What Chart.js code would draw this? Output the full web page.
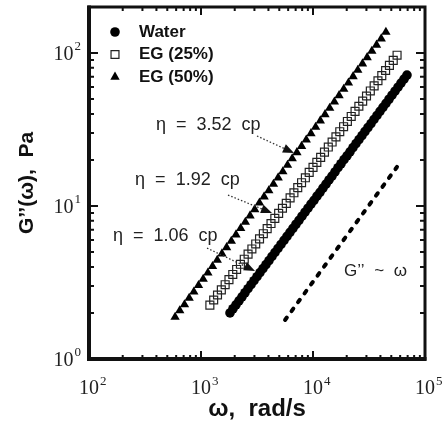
<!DOCTYPE html>
<html>
<head>
<meta charset="utf-8">
<script src="https://cdn.jsdelivr.net/npm/chart.js@4.4.1/dist/chart.umd.min.js"></script>
<style>
  html, body { margin: 0; padding: 0; background: #fff; }
  #wrap { width: 448px; height: 426px; }
</style>
</head>
<body>
<div id="wrap"><canvas id="chart" width="448" height="426"></canvas></div>
<script>
// loss modulus G'' (Pa) against angular frequency omega (rad/s)
const waterOmega = [
  1815, 1930, 2053, 2184, 2323, 2470, 2628, 2795, 2972, 3162,
  3363, 3577, 3804, 4046, 4304, 4578, 4869, 5178, 5508, 5858,
  6231, 6627, 7049, 7497, 7974, 8482, 9021, 9595, 10206, 10855,
  11546, 12280, 13061, 13892, 14776, 15716, 16716, 17780, 18911, 20114,
  21394, 22755, 24202, 25742, 27380, 29122, 30974, 32945, 35041, 37270,
  39641, 42163, 44846, 47699, 50733, 53961, 57394, 61045, 64929, 69060
];
const waterG = [
  2.00, 2.13, 2.26, 2.40, 2.55, 2.71, 2.88, 3.06, 3.25, 3.45,
  3.67, 3.90, 4.14, 4.40, 4.68, 4.97, 5.28, 5.61, 5.96, 6.33,
  6.73, 7.15, 7.60, 8.07, 8.58, 9.11, 9.68, 10.3, 10.9, 11.6,
  12.3, 13.1, 13.9, 14.8, 15.7, 16.7, 17.8, 18.9, 20.1, 21.3,
  22.6, 24.1, 25.6, 27.2, 28.9, 30.7, 32.6, 34.6, 36.8, 39.1,
  41.6, 44.2, 46.9, 49.9, 53.0, 56.3, 59.8, 63.6, 67.5, 71.8
];
const eg25Omega = [
  1200, 1298, 1404, 1519, 1643, 1777, 1922, 2080, 2249, 2433,
  2632, 2847, 3080, 3331, 3604, 3898, 4217, 4561, 4934, 5337,
  5773, 6245, 6755, 7307, 7904, 8550, 9248, 10004, 10821, 11705,
  12662, 13696, 14815, 16026, 17335, 18752, 20284, 21941, 23734, 25674,
  27771, 30040, 32495, 35150, 38022, 41129, 44489, 48125, 52057, 56310
];
const eg25G = [
  2.25, 2.43, 2.62, 2.83, 3.06, 3.30, 3.57, 3.85, 4.16, 4.49,
  4.85, 5.24, 5.65, 6.10, 6.59, 7.12, 7.68, 8.30, 8.96, 9.67,
  10.4, 11.3, 12.2, 13.2, 14.2, 15.3, 16.6, 17.9, 19.3, 20.8,
  22.5, 24.3, 26.2, 28.3, 30.6, 33.0, 35.7, 38.5, 41.6, 44.9,
  48.5, 52.4, 56.5, 61.0, 65.9, 71.2, 76.9, 83.0, 89.6, 96.8
];
const eg50Omega = [
  587, 646, 712, 784, 863, 950, 1046, 1152, 1268, 1397,
  1538, 1693, 1865, 2053, 2261, 2489, 2741, 3018, 3323, 3659,
  4029, 4436, 4885, 5379, 5922, 6521, 7181, 7907, 8706, 9586,
  10556, 11623, 12798, 14092, 15517, 17086, 18813, 20715, 22810, 25116,
  27655, 30451, 33530, 36920, 40653, 44763
];
const eg50G = [
  1.88, 2.07, 2.27, 2.50, 2.75, 3.03, 3.33, 3.66, 4.03, 4.43,
  4.88, 5.36, 5.90, 6.49, 7.14, 7.85, 8.64, 9.50, 10.5, 11.5,
  12.6, 13.9, 15.3, 16.8, 18.5, 20.4, 22.4, 24.6, 27.1, 29.8,
  32.8, 36.1, 39.7, 43.7, 48.0, 52.8, 58.1, 63.9, 70.3, 77.3,
  85.1, 93.6, 103, 113, 124, 137
];
// slope-one guide line
const guideOmega = [5630, 56200];
const guideG = [1.8, 18];

const seriesNames = ['Water', 'EG (25%)', 'EG (50%)'];

// decade ticks, labelled 10 with a raised exponent
const xDecades = [100, 1000, 10000, 100000];
const xExponents = ['2', '3', '4', '5'];
const yDecades = [1, 10, 100];
const yExponents = ['0', '1', '2'];

// viscosity notes: text anchor, dotted arrow start and arrow tip (omega, G'')
const etaLabels = ['η = 3.52 cp', 'η = 1.92 cp', 'η = 1.06 cp'];
const etaLabelAt = [[396, 33.8], [258, 14.8], [164, 6.37]];
const etaArrowFrom = [[3162, 28.7], [1742, 11.8], [1132, 5.31]];
const etaArrowTo = [[6761, 22.2], [4304, 9.0], [3034, 3.76]];
const slopeLabel = 'G’’ ~ ω';
const slopeLabelAt = [18900, 3.76];

function pairs(xs, ys) {
  return xs.map((x, i) => ({ x: x, y: ys[i] }));
}

// 1..9 x each decade, majors on the powers of ten
function logTicks(decades, min, max) {
  const out = [];
  decades.forEach(d => {
    for (let m = 1; m < 10; m++) {
      const v = d * m;
      if (v >= min * 0.999 && v <= max * 1.001) out.push({ value: v, major: m === 1 });
    }
  });
  return out;
}

const markerStyles = [
  { pointStyle: 'circle', radius: 4.8, fill: '#000', stroke: '#000', borderWidth: 0 },
  { pointStyle: 'rect', radius: 5.6, fill: 'rgba(0,0,0,0)', stroke: '#222', borderWidth: 1.2 },
  { pointStyle: 'triangle', radius: 5.4, fill: '#000', stroke: '#000', borderWidth: 0 }
];

const serif = '"Liberation Serif", "Times New Roman", serif';
const sans = '"Liberation Sans", Arial, sans-serif';

const decorPlugin = {
  id: 'decor',
  afterDraw(chart) {
    const { ctx, chartArea: a, scales: { x, y } } = chart;
    ctx.save();

    // inward ticks on all four sides
    ctx.strokeStyle = '#111';
    ctx.lineWidth = 2;
    x.ticks.forEach(t => {
      const px = x.getPixelForValue(t.value);
      const len = t.major ? 8 : 4;
      ctx.beginPath();
      ctx.moveTo(px, a.bottom); ctx.lineTo(px, a.bottom - len);
      ctx.moveTo(px, a.top); ctx.lineTo(px, a.top + len);
      ctx.stroke();
    });
    y.ticks.forEach(t => {
      const py = y.getPixelForValue(t.value);
      const len = t.major ? 9 : 5;
      ctx.beginPath();
      ctx.moveTo(a.left, py); ctx.lineTo(a.left + len, py);
      ctx.moveTo(a.right, py); ctx.lineTo(a.right - len, py);
      ctx.stroke();
    });
    // heavier axes on the left and bottom
    ctx.lineWidth = 3;
    ctx.strokeRect(a.left, a.top, a.right - a.left, a.bottom - a.top);
    ctx.lineWidth = 4;
    ctx.beginPath();
    ctx.moveTo(a.left, a.top - 1.5);
    ctx.lineTo(a.left, a.bottom);
    ctx.lineTo(a.right + 1.5, a.bottom);
    ctx.stroke();

    // decade labels: "10" plus a small raised exponent
    ctx.fillStyle = '#222';
    ctx.textBaseline = 'alphabetic';
    xDecades.forEach((d, i) => {
      const px = x.getPixelForValue(d);
      ctx.font = '20px ' + serif;
      ctx.textAlign = 'center';
      ctx.fillText('10', px, a.bottom + 35);
      const w = ctx.measureText('10').width;
      ctx.font = '13px ' + serif;
      ctx.textAlign = 'left';
      ctx.fillText(xExponents[i], px + w / 2 + 1, a.bottom + 26);
    });
    yDecades.forEach((d, i) => {
      const py = y.getPixelForValue(d);
      ctx.font = '13px ' + serif;
      ctx.textAlign = 'right';
      ctx.fillText(yExponents[i], a.left - 8, py - 3);
      const ew = ctx.measureText(yExponents[i]).width;
      ctx.font = '20px ' + serif;
      ctx.fillText('10', a.left - 9 - ew, py + 7);
    });

    // legend, top left inside the frame
    ctx.font = 'bold 17px ' + sans;
    ctx.textBaseline = 'middle';
    ctx.textAlign = 'left';
    seriesNames.forEach((name, i) => {
      const ly = a.top + 25 + i * 22.5;
      const s = markerStyles[i];
      ctx.fillStyle = s.fill;
      ctx.strokeStyle = s.stroke;
      ctx.lineWidth = s.borderWidth;
      Chart.helpers.drawPoint(ctx, { pointStyle: s.pointStyle, radius: s.radius, rotation: 0, borderWidth: s.borderWidth }, a.left + 26, ly);
      ctx.fillStyle = '#111';
      ctx.fillText(name, a.left + 50, ly);
    });

    // viscosity notes with dotted arrows
    ctx.font = '18px ' + sans;
    if ('wordSpacing' in ctx) ctx.wordSpacing = '5px';
    ctx.fillStyle = '#222';
    etaLabels.forEach((txt, i) => {
      ctx.fillText(txt, x.getPixelForValue(etaLabelAt[i][0]), y.getPixelForValue(etaLabelAt[i][1]));
      const x0 = x.getPixelForValue(etaArrowFrom[i][0]), y0 = y.getPixelForValue(etaArrowFrom[i][1]);
      const x1 = x.getPixelForValue(etaArrowTo[i][0]), y1 = y.getPixelForValue(etaArrowTo[i][1]);
      const ang = Math.atan2(y1 - y0, x1 - x0);
      const head = 11, half = 4.5;
      const bx = x1 - head * Math.cos(ang), by = y1 - head * Math.sin(ang);
      ctx.strokeStyle = '#333';
      ctx.lineWidth = 1.3;
      ctx.setLineDash([1.5, 2]);
      ctx.beginPath();
      ctx.moveTo(x0, y0); ctx.lineTo(bx, by);
      ctx.stroke();
      ctx.setLineDash([]);
      ctx.fillStyle = '#111';
      ctx.beginPath();
      ctx.moveTo(x1, y1);
      ctx.lineTo(bx + half * Math.sin(ang), by - half * Math.cos(ang));
      ctx.lineTo(bx - half * Math.sin(ang), by + half * Math.cos(ang));
      ctx.closePath();
      ctx.fill();
      ctx.fillStyle = '#222';
    });
    ctx.font = '17px ' + sans;
    ctx.fillText(slopeLabel, x.getPixelForValue(slopeLabelAt[0]), y.getPixelForValue(slopeLabelAt[1]));

    ctx.restore();
  }
};

new Chart(document.getElementById('chart'), {
  type: 'scatter',
  data: {
    datasets: [
      {
        label: seriesNames[0],
        data: pairs(waterOmega, waterG),
        pointStyle: 'circle',
        pointRadius: markerStyles[0].radius,
        backgroundColor: '#000',
        borderColor: '#000',
        borderWidth: 0
      },
      {
        label: seriesNames[1],
        data: pairs(eg25Omega, eg25G),
        pointStyle: 'rect',
        pointRadius: markerStyles[1].radius,
        backgroundColor: 'rgba(0,0,0,0)',
        borderColor: '#222',
        borderWidth: 1.2
      },
      {
        label: seriesNames[2],
        data: pairs(eg50Omega, eg50G),
        pointStyle: 'triangle',
        pointRadius: markerStyles[2].radius,
        backgroundColor: '#000',
        borderColor: '#000',
        borderWidth: 0
      },
      {
        label: 'slope 1',
        data: pairs(guideOmega, guideG),
        showLine: true,
        pointRadius: 0,
        borderColor: '#000',
        borderWidth: 4,
        borderCapStyle: 'round',
        borderDash: [3, 8]
      }
    ]
  },
  options: {
    responsive: false,
    animation: false,
    layout: { padding: { top: 7, right: 23, left: 0, bottom: 0 } },
    plugins: {
      legend: { display: false },
      tooltip: { enabled: false }
    },
    scales: {
      x: {
        type: 'logarithmic',
        min: 100,
        max: 100000,
        afterBuildTicks: s => { s.ticks = logTicks(xDecades, s.min, s.max); },
        afterFit: s => { s.height = 67; s.paddingLeft = 0; s.paddingRight = 0; },
        grid: { display: false },
        border: { display: false },
        ticks: { display: false },
        title: {
          display: true,
          text: 'ω,  rad/s',
          color: '#111',
          font: { family: sans, weight: 'bold', size: 24 },
          padding: { top: 0, bottom: 2 }
        }
      },
      y: {
        type: 'logarithmic',
        min: 1,
        max: 200,
        afterBuildTicks: s => { s.ticks = logTicks(yDecades, s.min, s.max); },
        afterFit: s => { s.width = 89; s.paddingTop = 0; s.paddingBottom = 0; },
        grid: { display: false },
        border: { display: false },
        ticks: { display: false },
        title: {
          display: true,
          text: 'G’’(ω),  Pa',
          color: '#111',
          font: { family: sans, weight: 'bold', size: 21 },
          padding: { top: 15, bottom: 0 }
        }
      }
    }
  },
  plugins: [decorPlugin]
});
</script>
</body>
</html>
